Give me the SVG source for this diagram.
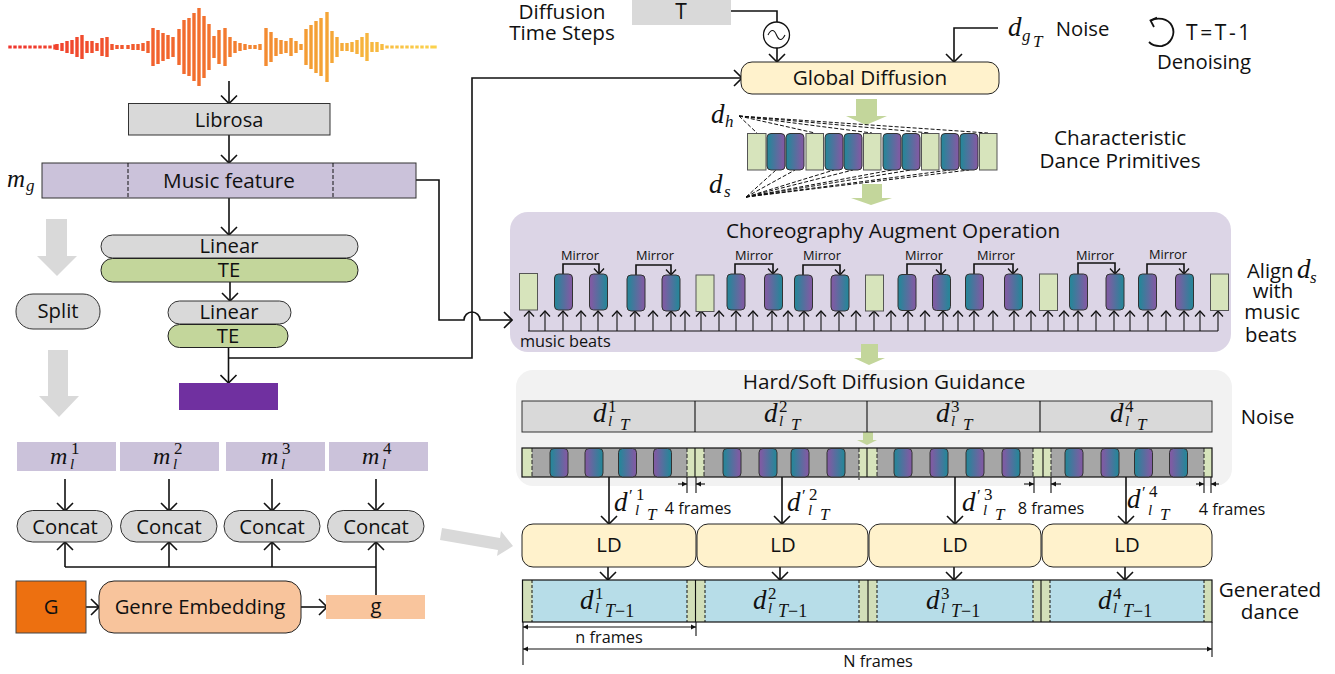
<svg xmlns="http://www.w3.org/2000/svg" width="1335" height="674" viewBox="0 0 1335 674">
<style>
text{font-family:"Open Sans","Noto Sans",sans-serif;fill:#111;text-anchor:middle}
.f20{font-size:20.700px}.f19{font-size:20.300px}.f18{font-size:20.300px}.f15{font-size:16.300px}.f12{font-size:12.800px}
.st{text-anchor:start}
.m{font-family:"Liberation Serif",serif;font-style:italic;text-anchor:start}
.r{font-family:"Liberation Serif",serif;text-anchor:start}
.d24{font-size:27px}.s15{font-size:17px}.s14{font-size:15px}.s18{font-size:18px}
.gray{fill:#d9d9d9;stroke:#333;stroke-width:1}
.grayn{fill:#d9d9d9}
.purp{fill:#cbc2da}
.grn{fill:#c3d69b;stroke:#222;stroke-width:1}
.yel{fill:#fff2cc;stroke:#222;stroke-width:1}
.lg{fill:#d7e4bc;stroke:#555;stroke-width:1}
.tp{fill:url(#tealPurple);stroke:#333;stroke-width:1}
.pt{fill:url(#purpleTeal);stroke:#333;stroke-width:1}
.bigg{fill:#d9d9d9}
.bign{fill:#c3d69b}
.ln{fill:none;stroke:#111;stroke-width:1.600}
.a{marker-end:url(#arr)}
.b{marker-end:url(#arrS)}
.t{marker-end:url(#tri)}
.ts{marker-start:url(#triR);marker-end:url(#tri)}
.dash{fill:none;stroke:#111;stroke-width:1;stroke-dasharray:4 2}
.dot{fill:none;stroke:#111;stroke-width:1;stroke-dasharray:3 2}
.thin{fill:none;stroke:#111;stroke-width:1.100}
.strip{fill:#d7e4bc}
.strip2{fill:#d2dfb9}
</style>
<defs>
<linearGradient id="tealPurple"><stop offset="0.1" stop-color="#2a8499"/><stop offset="0.9" stop-color="#7e5ca3"/></linearGradient>
<linearGradient id="purpleTeal"><stop offset="0.1" stop-color="#7e5ca3"/><stop offset="0.9" stop-color="#2a8499"/></linearGradient>
<linearGradient id="wave" gradientUnits="userSpaceOnUse" x1="9" y1="0" x2="436" y2="0"><stop offset="0" stop-color="#f0352d"/><stop offset="0.45" stop-color="#f2702e"/><stop offset="0.72" stop-color="#f4a034"/><stop offset="1" stop-color="#fbd24c"/></linearGradient>
<marker id="arr" markerUnits="userSpaceOnUse" viewBox="-10 -9 11 18" refX="0" refY="0" markerWidth="11" markerHeight="18" orient="auto"><path d="M-8-8L0 0L-8 8" fill="none" stroke="#111" stroke-width="1.600"/></marker>
<marker id="arrS" markerUnits="userSpaceOnUse" viewBox="-7 -6 8 12" refX="0" refY="0" markerWidth="8" markerHeight="12" orient="auto"><path d="M-5.500-5L0 0L-5.500 5" fill="none" stroke="#111" stroke-width="1.300"/></marker>
<marker id="tri" markerUnits="userSpaceOnUse" viewBox="-6 -3 6 6" refX="0" refY="0" markerWidth="6" markerHeight="6" orient="auto"><path d="M-5-2.500L0 0L-5 2.500Z" fill="#111"/></marker>
<marker id="triR" markerUnits="userSpaceOnUse" viewBox="0 -3 6 6" refX="0" refY="0" markerWidth="6" markerHeight="6" orient="auto"><path d="M5-2.500L0 0L5 2.500Z" fill="#111"/></marker>
</defs>

<g id="waveform"><path fill="none" stroke="url(#wave)" stroke-width="3.400" d="M10 45.500v3M15 45.500v3M20 45.500v3M25 45.500v3M30 45.500v3M35 45.500v3M40 45.500v3M45 45.500v3M50 45.500v3M55 44.500v5M57 44v6M62 43v8M67 41v12M72 40v14M77 37v20M82 35v24M87 41v12M92 41v12M97 43v8M102 38v18M107 37v20M112 44v6M117 45v4M122 45v4M128 45v4M133 44v6M138 44v6M143 43v8M148 41v12M153 28v38M158 30v34M163 33v28M168 35v24M173 37v20M179 29v36M184 20v54M189 18v58M194 13v68M199 8v78M204 16v62M209 24v46M214 36v22M219 30v34M225 28v38M230 37v20M235 41v12M240 43v8M245 44v6M250 45v4M255 45v4M260 44v6M266 28v38M271 32v30M276 38v18M281 40v14M286 41v12M291 38v18M296 41v12M301 44v6M306 29v36M311 25v44M316 21v52M321 18v58M327 12v70M332 31v32M337 37v20M342 43v8M347 43v8M352 42v10M357 40v14M362 37v20M367 33v28M372 42v10M377 42v10M382 44v6M387 45.500v3M392 45.500v3M397 45.500v3M402 45.500v3M407 45.500v3M412 45.500v3M417 45.500v3M422 45.500v3M427 45.500v3M432 45.500v3M435 45.500v3"/></g>

<g id="panel-augment"><rect x="510" y="212" width="721" height="140" rx="18" fill="#dcd5e6"/></g>
<g id="panel-guidance"><rect x="516" y="370" width="716" height="116" rx="17" fill="#f2f2f2"/></g>

<g id="big-arrows">
<path class="bigg" d="M46 219H67V256H77L57 276L37 256H46Z"/>
<path class="bigg" d="M48 350H68V396H79L59 417L39 396H48Z"/>
<path class="bigg" d="M442 528L500 538L501 531L513 546L497 556L498 550L440 540Z"/>
<path class="bign" d="M856 99H877V116H887L866 125L846 116H856Z"/>
<path class="bign" d="M862 184H882V198H892L871 205L851 198H862Z"/>
<path class="bign" d="M861 344H878V358H885L869 365L854 358H861Z"/>
<path class="bign" d="M863 432H873V440H877L867 445L857 440H863Z"/>
</g>

<g id="connectors">
<path class="ln a" d="M229 81V103.500"/>
<path class="ln a" d="M229 135V163"/>
<path class="ln a" d="M229 198V235"/>
<path class="ln a" d="M230 282V301"/>
<path class="ln a" d="M228.500 347V383"/>
<path class="ln a" d="M228 358H472V78H742"/>
<path class="ln a" d="M416 180H439V320H464A8 8 0 0 1 480 320H512"/>
<path class="ln a" d="M731 11H777V22M777 48V62"/>
<path class="ln a" d="M998 28H954V62"/>
<path class="ln a" d="M65 479V511"/>
<path class="ln a" d="M169 479V511"/>
<path class="ln a" d="M272 479V511"/>
<path class="ln a" d="M376 479V511"/>
<path class="ln a" d="M65 567V542"/>
<path class="ln a" d="M169 567V542"/>
<path class="ln a" d="M272 567V542"/>
<path class="ln a" d="M376 595V542"/>
<path class="ln" d="M65 567H376"/>
<path class="ln a" d="M86 607H99"/>
<path class="ln a" d="M301 607H327"/>
<path class="dash" d="M739 116L757 133M739 116L815 133M739 116L872 133M739 116L930 133M739 116L988 133"/>
<path class="dash" d="M746 197L776 170M746 197L795 170M746 197L834 170M746 197L853 170M746 197L892 170M746 197L911 170M746 197L950 170M746 197L969 170"/>
<path class="ln" style="stroke-width:1.200" d="M528 331H1218"/>
<path class="thin b" d="M529 331V311"/><path class="thin b" d="M545 331V311"/><path class="thin b" d="M563 331V311"/><path class="thin b" d="M581 331V311"/><path class="thin b" d="M598 331V311"/><path class="thin b" d="M617 331V311"/><path class="thin b" d="M635 331V311"/><path class="thin b" d="M653 331V311"/><path class="thin b" d="M671 331V311"/><path class="thin b" d="M685 331V311"/><path class="thin b" d="M701 331V311"/><path class="thin b" d="M719 331V311"/><path class="thin b" d="M736 331V311"/><path class="thin b" d="M753 331V311"/><path class="thin b" d="M772 331V311"/><path class="thin b" d="M788 331V311"/><path class="thin b" d="M804 331V311"/><path class="thin b" d="M821 331V311"/><path class="thin b" d="M839 331V311"/><path class="thin b" d="M856 331V311"/><path class="thin b" d="M874 331V311"/><path class="thin b" d="M891 331V311"/><path class="thin b" d="M908 331V311"/><path class="thin b" d="M925 331V311"/><path class="thin b" d="M943 331V311"/><path class="thin b" d="M958 331V311"/><path class="thin b" d="M974 331V311"/><path class="thin b" d="M993 331V311"/><path class="thin b" d="M1014 331V311"/><path class="thin b" d="M1031 331V311"/><path class="thin b" d="M1048 331V311"/><path class="thin b" d="M1064 331V311"/><path class="thin b" d="M1078 331V311"/><path class="thin b" d="M1096 331V311"/><path class="thin b" d="M1114 331V311"/><path class="thin b" d="M1130 331V311"/><path class="thin b" d="M1148 331V311"/><path class="thin b" d="M1166 331V311"/><path class="thin b" d="M1184 331V311"/><path class="thin b" d="M1200 331V311"/><path class="thin b" d="M1218 331V311"/>
<path class="ln b" d="M563 274V264H599V274"/>
<path class="ln b" d="M636 275V265H671V275"/>
<path class="ln b" d="M735 274V264H773V274"/>
<path class="ln b" d="M803 275V265H840V275"/>
<path class="ln b" d="M907 275V264H941V275"/>
<path class="ln b" d="M974 274V264H1013V274"/>
<path class="ln b" d="M1078 274V263H1115V274"/>
<path class="ln b" d="M1147 274V264H1184V274"/>
<path class="ln a" d="M609 477V524"/>
<path class="ln a" d="M782 477V524"/>
<path class="ln a" d="M955 477V524"/>
<path class="ln a" d="M1126 477V524"/>
<path class="ln a" d="M608 567V580"/>
<path class="ln a" d="M780 567V580"/>
<path class="ln a" d="M954 567V580"/>
<path class="ln a" d="M1125 567V580"/>
<path class="thin" d="M687 477V493M696 477V493M1034 477V493M1051 477V493M1204 477V493M1211 477V493"/>
<path class="thin t" d="M678 484H687"/><path class="thin t" d="M705 484H696"/>
<path class="thin t" d="M1024 484H1034"/><path class="thin t" d="M1061 484H1051"/>
<path class="thin t" d="M1196 484H1204"/><path class="thin t" d="M1219 484H1211"/>
<path class="thin" d="M523 622V665M696 622V636M1212 622V657"/>
<path class="thin ts" d="M523 627H696"/>
<path class="thin ts" d="M523 649H1212"/>
</g>

<g id="librosa"><rect class="gray" x="128.500" y="103.500" width="201.500" height="31.500"/><text style="font-size:20px" x="229" y="127">Librosa</text></g>
<g id="music-feature"><rect class="purp" x="42" y="163" width="374" height="35" stroke="#333"/><path class="dash" d="M128 163V198M333 163V198"/><text class="f20" x="229" y="188">Music feature</text>
<text class="m" style="font-size:25px" x="7" y="187">m</text><text class="m s15" x="26" y="191">g</text></g>
<g id="linear1"><rect class="gray" x="101" y="235" width="257" height="23" rx="11.500"/><text class="f18" x="229" y="253">Linear</text></g>
<g id="te1"><rect class="grn" x="101" y="258.500" width="257" height="23.500" rx="11.500"/><text class="f18" x="229" y="277">TE</text></g>
<g id="linear2"><rect class="gray" x="168" y="301" width="123" height="23" rx="11.500"/><text class="f18" x="229" y="319">Linear</text></g>
<g id="te2"><rect class="grn" x="168" y="324.500" width="120" height="23" rx="11.500"/><text class="f18" x="228" y="343">TE</text></g>
<g id="output"><rect x="179" y="383" width="99" height="27" fill="#7030a0"/></g>
<g id="split"><rect class="gray" x="16" y="294" width="84" height="35" rx="17"/><text class="f19" x="58" y="318">Split</text></g>

<g id="m1"><rect class="purp" x="17" y="442" width="99" height="29"/><text class="m" style="font-size:24px" x="50" y="464">m</text><text class="r s15" x="71" y="454">1</text><text class="m s14" x="70" y="469">l</text></g>
<g id="m2"><rect class="purp" x="120" y="442" width="99" height="29"/><text class="m" style="font-size:24px" x="153" y="464">m</text><text class="r s15" x="174" y="454">2</text><text class="m s14" x="173" y="469">l</text></g>
<g id="m3"><rect class="purp" x="226" y="442" width="99" height="29"/><text class="m" style="font-size:24px" x="261" y="464">m</text><text class="r s15" x="282" y="454">3</text><text class="m s14" x="281" y="469">l</text></g>
<g id="m4"><rect class="purp" x="329" y="442" width="99" height="29"/><text class="m" style="font-size:24px" x="362" y="464">m</text><text class="r s15" x="383" y="454">4</text><text class="m s14" x="382" y="469">l</text></g>

<g id="concat1"><rect class="gray" x="17" y="510.500" width="95" height="31.500" rx="15.700"/><text class="f19" x="65" y="534">Concat</text></g>
<g id="concat2"><rect class="gray" x="120.500" y="510.500" width="96.500" height="31.500" rx="15.700"/><text class="f19" x="169" y="534">Concat</text></g>
<g id="concat3"><rect class="gray" x="224" y="510.500" width="96" height="31.500" rx="15.700"/><text class="f19" x="272" y="534">Concat</text></g>
<g id="concat4"><rect class="gray" x="327.500" y="510.500" width="96.500" height="31.500" rx="15.700"/><text class="f19" x="376" y="534">Concat</text></g>
<g id="G"><rect x="16" y="581" width="70" height="52" fill="#ed7010" stroke="#444"/><text class="f19" x="51" y="614">G</text></g>
<g id="genre"><rect x="99" y="581" width="202" height="52" rx="15" fill="#f8c49c" stroke="#222"/><text class="f19" x="200" y="614">Genre Embedding</text></g>
<g id="g"><rect x="326" y="595" width="99" height="24" fill="#f9c59d"/><text class="f19" x="376" y="613">g</text></g>

<g id="T"><rect class="grayn" x="632" y="0" width="99" height="25"/><text style="font-size:21px" x="681" y="19">T</text></g>
<text class="f20" x="562" y="19">Diffusion</text>
<text class="f20" x="562" y="40">Time Steps</text>
<g id="sine"><circle cx="776.500" cy="35" r="13" fill="#fff" stroke="#111" stroke-width="1.300"/><path class="thin" d="M768 35C771 29 774 29 776.500 35S782 41 785 35"/></g>
<g id="global-diffusion"><rect class="yel" x="741" y="62" width="258" height="32" rx="11"/><text class="f20" x="870" y="85">Global Diffusion</text></g>
<text class="m d24" x="1008" y="36">d</text><text class="m s15" x="1022" y="41">g</text><text class="m s15" x="1033" y="47">T</text>
<text class="f19" x="1082.500" y="36">Noise</text>
<g id="denoise-loop"><path class="ln" style="stroke-width:1.800" d="M1151 20.500C1157 17 1168 18 1172 26C1176 34 1171 44 1162 46C1157 46.500 1152 45 1149 42"/><path class="ln" style="stroke-width:1.800" d="M1157 17.500L1150.500 20.500L1154 27"/></g>
<text class="st" style="font-size:21px;letter-spacing:2.600px" x="1186" y="40">T=T-1</text>
<text class="f19" x="1204" y="69">Denoising</text>

<g id="primitives">
<rect class="lg" x="747.500" y="133.500" width="18.500" height="36.500"/>
<rect class="tp" x="767" y="133.500" width="18" height="36.500" rx="4"/>
<rect class="tp" x="786" y="133.500" width="18" height="36.500" rx="4"/>
<rect class="lg" x="806" y="133.500" width="17.500" height="36.500"/>
<rect class="tp" x="825" y="133.500" width="18" height="36.500" rx="4"/>
<rect class="tp" x="844" y="133.500" width="18" height="36.500" rx="4"/>
<rect class="lg" x="863.500" y="133.500" width="17.500" height="36.500"/>
<rect class="tp" x="883" y="133.500" width="18" height="36.500" rx="4"/>
<rect class="tp" x="902" y="133.500" width="18" height="36.500" rx="4"/>
<rect class="lg" x="921.500" y="133.500" width="17.500" height="36.500"/>
<rect class="tp" x="941" y="133.500" width="18" height="36.500" rx="4"/>
<rect class="tp" x="960" y="133.500" width="18" height="36.500" rx="4"/>
<rect class="lg" x="979.500" y="133.500" width="17.500" height="36.500"/>
</g>
<text class="m d24" x="711" y="123">d</text><text class="m s15" x="725" y="127">h</text>
<text class="m d24" x="709" y="193">d</text><text class="m s15" x="724" y="197">s</text>
<text class="f20" x="1120" y="145">Characteristic</text>
<text class="f20" x="1120" y="168">Dance Primitives</text>

<g id="augment">
<text class="f20" x="893" y="238">Choreography Augment Operation</text>
<text class="f12" x="580" y="260">Mirror</text><text class="f12" x="655" y="260">Mirror</text><text class="f12" x="754" y="260">Mirror</text><text class="f12" x="822" y="260">Mirror</text><text class="f12" x="924" y="260">Mirror</text><text class="f12" x="996" y="260">Mirror</text><text class="f12" x="1095" y="260">Mirror</text><text class="f12" x="1168" y="259">Mirror</text>
<rect class="lg" x="519.500" y="273.500" width="18" height="36.500"/>
<rect class="tp" x="554.500" y="274" width="18" height="36" rx="4"/>
<rect class="pt" x="589.500" y="274" width="18" height="36" rx="4"/>
<rect class="tp" x="627" y="275" width="18" height="36" rx="4"/>
<rect class="pt" x="662" y="275" width="18" height="36" rx="4"/>
<rect class="lg" x="696" y="275" width="18" height="36.500"/>
<rect class="tp" x="727" y="274" width="18" height="36" rx="4"/>
<rect class="pt" x="764.500" y="274" width="18" height="36" rx="4"/>
<rect class="tp" x="794.500" y="275" width="18" height="36" rx="4"/>
<rect class="pt" x="831" y="275" width="18" height="36" rx="4"/>
<rect class="lg" x="865.500" y="275" width="18" height="36"/>
<rect class="tp" x="898" y="274.500" width="18" height="36" rx="4"/>
<rect class="pt" x="932.500" y="274.500" width="18" height="36" rx="4"/>
<rect class="tp" x="965.500" y="274" width="18" height="36" rx="4"/>
<rect class="pt" x="1004.500" y="274" width="18" height="36" rx="4"/>
<rect class="lg" x="1039.500" y="274" width="18" height="36.500"/>
<rect class="tp" x="1069.500" y="274" width="18" height="36" rx="4"/>
<rect class="pt" x="1106" y="274" width="18" height="36" rx="4"/>
<rect class="tp" x="1138.500" y="274" width="18" height="36" rx="4"/>
<rect class="pt" x="1175.500" y="274" width="18" height="36" rx="4"/>
<rect class="lg" x="1210.500" y="274" width="18" height="36.500"/>
<text class="f15 st" x="520" y="347">music beats</text>
</g>
<text class="f19 st" x="1247" y="278">Align</text><text class="m d24" x="1297" y="278">d</text><text class="m s15" x="1310" y="283">s</text>
<text class="f19" x="1273" y="298">with</text>
<text class="f19" x="1272" y="319">music</text>
<text class="f19" x="1271" y="342">beats</text>

<g id="guidance">
<text class="f20" x="884" y="389">Hard/Soft Diffusion Guidance</text>
<rect class="gray" x="522" y="401" width="690" height="31"/>
<path class="thin" d="M695 401V432M867 401V432M1040 401V432"/>
<text class="m d24" x="593" y="422">d</text><text class="r s15" x="608" y="412">1</text><text class="m s14" x="608" y="426">l</text><text class="m s15" x="620" y="430">T</text>
<text class="m d24" x="764" y="422">d</text><text class="r s15" x="779" y="412">2</text><text class="m s14" x="779" y="426">l</text><text class="m s15" x="791" y="430">T</text>
<text class="m d24" x="936" y="422">d</text><text class="r s15" x="951" y="412">3</text><text class="m s14" x="951" y="426">l</text><text class="m s15" x="963" y="430">T</text>
<text class="m d24" x="1110" y="422">d</text><text class="r s15" x="1125" y="412">4</text><text class="m s14" x="1125" y="426">l</text><text class="m s15" x="1137" y="430">T</text>
<rect x="522" y="448" width="690" height="29" fill="#a6a6a6"/>
<rect class="strip" x="522" y="448" width="10" height="29"/><rect class="strip" x="687" y="448" width="17" height="29"/><rect class="strip" x="859" y="448" width="18" height="29"/><rect class="strip" x="1033" y="448" width="18" height="29"/><rect class="strip" x="1204" y="448" width="8" height="29"/>
<path class="dash" d="M532 448V477M687 448V477M704 448V477M859 448V480M877 448V477M1033 448V477M1051 448V477M1204 448V477" style="stroke:#222"/>
<path class="thin" d="M695 448V477M867 448V477M1043 448V477"/>
<rect x="522" y="448" width="690" height="29" fill="none" stroke="#111" stroke-width="1.200"/>
<rect class="tp" x="550" y="448.500" width="18" height="28.500" rx="4"/><rect class="pt" x="585" y="448.500" width="18" height="28.500" rx="4"/><rect class="tp" x="618.500" y="448.500" width="18" height="28.500" rx="4"/><rect class="pt" x="653.500" y="448.500" width="18" height="28.500" rx="4"/>
<rect class="tp" x="723" y="448.500" width="18" height="28.500" rx="4"/><rect class="pt" x="759" y="448.500" width="18" height="28.500" rx="4"/><rect class="tp" x="791" y="448.500" width="18" height="28.500" rx="4"/><rect class="pt" x="827" y="448.500" width="18" height="28.500" rx="4"/>
<rect class="tp" x="894" y="448.500" width="18" height="28.500" rx="4"/><rect class="pt" x="930" y="448.500" width="18" height="28.500" rx="4"/><rect class="tp" x="966" y="448.500" width="18" height="28.500" rx="4"/><rect class="pt" x="1002" y="448.500" width="18" height="28.500" rx="4"/>
<rect class="tp" x="1065" y="448.500" width="18" height="28.500" rx="4"/><rect class="pt" x="1101" y="448.500" width="18" height="28.500" rx="4"/><rect class="tp" x="1134.500" y="448.500" width="18" height="28.500" rx="4"/><rect class="pt" x="1169.500" y="448.500" width="18" height="28.500" rx="4"/>
</g>
<text class="f19" x="1267.500" y="424">Noise</text>

<text class="m d24" x="614" y="511">d</text><text class="r s15" x="629" y="501">′</text><text class="r s15" x="636" y="500">1</text><text class="m s14" x="635" y="515">l</text><text class="m s15" x="647" y="520">T</text>
<text class="m d24" x="787" y="511">d</text><text class="r s15" x="802" y="501">′</text><text class="r s15" x="809" y="500">2</text><text class="m s14" x="808" y="515">l</text><text class="m s15" x="820" y="520">T</text>
<text class="m d24" x="962" y="511">d</text><text class="r s15" x="977" y="501">′</text><text class="r s15" x="984" y="500">3</text><text class="m s14" x="983" y="515">l</text><text class="m s15" x="995" y="520">T</text>
<text class="m d24" x="1127" y="508">d</text><text class="r s15" x="1142" y="498">′</text><text class="r s15" x="1149" y="497">4</text><text class="m s14" x="1148" y="515">l</text><text class="m s15" x="1160" y="520">T</text>
<text class="f15" x="698" y="514">4 frames</text>
<text class="f15" x="1051" y="514">8 frames</text>
<text class="f15" x="1232" y="515">4 frames</text>

<g id="ld1"><rect class="yel" x="522" y="524" width="174" height="43" rx="11"/><text class="f18" x="609" y="552">LD</text></g>
<g id="ld2"><rect class="yel" x="697" y="524" width="171" height="43" rx="11"/><text class="f18" x="783" y="552">LD</text></g>
<g id="ld3"><rect class="yel" x="869" y="524" width="172" height="43" rx="11"/><text class="f18" x="955" y="552">LD</text></g>
<g id="ld4"><rect class="yel" x="1042" y="524" width="170" height="43" rx="11"/><text class="f18" x="1127" y="552">LD</text></g>

<g id="generated">
<rect x="522.500" y="580" width="689.500" height="42" fill="#b7dde8"/>
<rect class="strip2" x="522.500" y="580" width="10" height="42"/><rect class="strip2" x="687" y="580" width="18" height="42"/><rect class="strip2" x="859" y="580" width="18" height="42"/><rect class="strip2" x="1033" y="580" width="17" height="42"/><rect class="strip2" x="1204" y="580" width="8" height="42"/>
<path class="dot" d="M532 580V622M687 580V622M705 580V622M859 580V622M877 580V622M1033 580V622M1050 580V622M1204 580V622"/>
<path class="thin" d="M695.500 580V622M868 580V622M1041 580V622"/>
<rect x="522.500" y="580" width="689.500" height="42" fill="none" stroke="#111" stroke-width="1.200"/>
<text class="m d24" x="580" y="609">d</text><text class="r s15" x="595" y="599">1</text><text class="m s14" x="595" y="613">l</text><text class="m s18" x="605" y="617">T<tspan class="r" style="font-style:normal">−1</tspan></text>
<text class="m d24" x="753" y="609">d</text><text class="r s15" x="768" y="599">2</text><text class="m s14" x="768" y="613">l</text><text class="m s18" x="778" y="617">T<tspan class="r" style="font-style:normal">−1</tspan></text>
<text class="m d24" x="926" y="609">d</text><text class="r s15" x="941" y="599">3</text><text class="m s14" x="941" y="613">l</text><text class="m s18" x="951" y="617">T<tspan class="r" style="font-style:normal">−1</tspan></text>
<text class="m d24" x="1098" y="609">d</text><text class="r s15" x="1113" y="599">4</text><text class="m s14" x="1113" y="613">l</text><text class="m s18" x="1123" y="617">T<tspan class="r" style="font-style:normal">−1</tspan></text>
</g>
<text class="f20" x="1270" y="597">Generated</text>
<text class="f20" x="1270" y="619">dance</text>
<text class="f15" x="609" y="643">n frames</text>
<text class="f15" x="878" y="667">N frames</text>
</svg>
